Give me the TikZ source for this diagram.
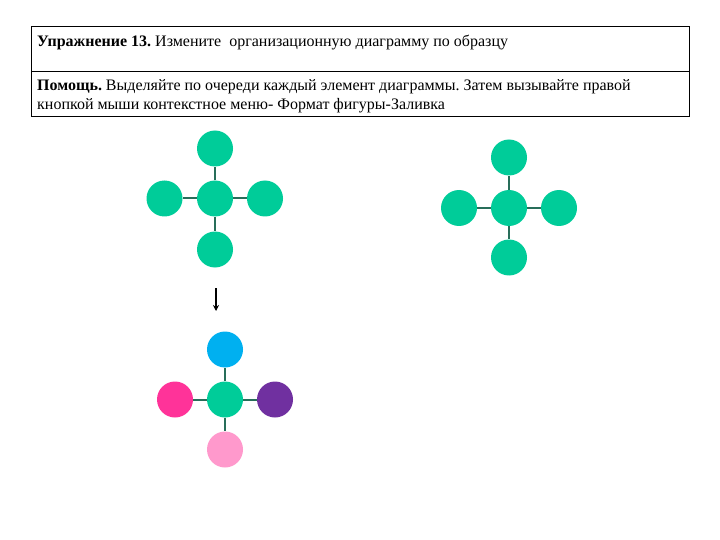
\documentclass[tikz,border=0pt]{standalone}
\usepackage{fontspec}
\setmainfont{Liberation Serif}
\usetikzlibrary{arrows.meta}
\frenchspacing
\definecolor{tgreen}{RGB}{0,204,153}
\definecolor{tblue}{RGB}{0,176,240}
\definecolor{tmag}{RGB}{255,51,153}
\definecolor{tpurple}{RGB}{112,48,160}
\definecolor{tpink}{RGB}{255,153,204}
\definecolor{tline}{RGB}{40,110,90}
\begin{document}
\begin{tikzpicture}[x=1pt,y=-1pt,
  dot/.style={circle,minimum size=36pt,inner sep=0pt,fill=tgreen},
  link/.style={draw=tline,line width=2pt},
  frame/.style={draw=black,line width=0.9pt},
  txt/.style={anchor=base west,inner sep=0pt,font=\fontsize{16}{19}\selectfont\frenchspacing}]
\useasboundingbox (0,0) rectangle (720,540);
% header box
\draw[frame] (31,26) rectangle (689,116);
\draw[frame] (31,71) -- (689,71);
\node[txt] (t1) at (37,47) {\textbf{Упражнение 13.} Измените\ \ организационную диаграмму по образцу};
\node[txt] (t2) at (37,91) {\textbf{Помощь.} Выделяйте по очереди каждый элемент диаграммы. Затем вызывайте правой};
\node[txt] (t3) at (37,110) {кнопкой мыши контекстное меню- Формат фигуры-Заливка};
% diagram 1
\node[dot] (ac) at (215,198.5) {};
\node[dot] (at) at (215,148.5) {};
\node[dot] (al) at (164.5,198.5) {};
\node[dot] (ar) at (265,198.5) {};
\node[dot] (ab) at (215,249.5) {};
\foreach \n in {at,al,ar,ab} \draw[link] (ac) -- (\n);
% diagram 2
\node[dot] (bc) at (509,208) {};
\node[dot] (bt) at (509,157.5) {};
\node[dot] (bl) at (459,208) {};
\node[dot] (br) at (559,208) {};
\node[dot] (bb) at (509,257.5) {};
\foreach \n in {bt,bl,br,bb} \draw[link] (bc) -- (\n);
% arrow
\coordinate (p1) at (216,288);
\coordinate (p2) at (216,311);
\draw[line width=1.6pt,-{Stealth[length=6pt,width=6pt]}] (p1) -- (p2);
% diagram 3
\node[dot] (cc) at (225,399.5) {};
\node[dot,fill=tblue] (ct) at (225,349.5) {};
\node[dot,fill=tmag] (cl) at (175,399.5) {};
\node[dot,fill=tpurple] (cr) at (275,399.5) {};
\node[dot,fill=tpink] (cb) at (225,449.5) {};
\foreach \n in {ct,cl,cr,cb} \draw[link] (cc) -- (\n);
\end{tikzpicture}
\end{document}
